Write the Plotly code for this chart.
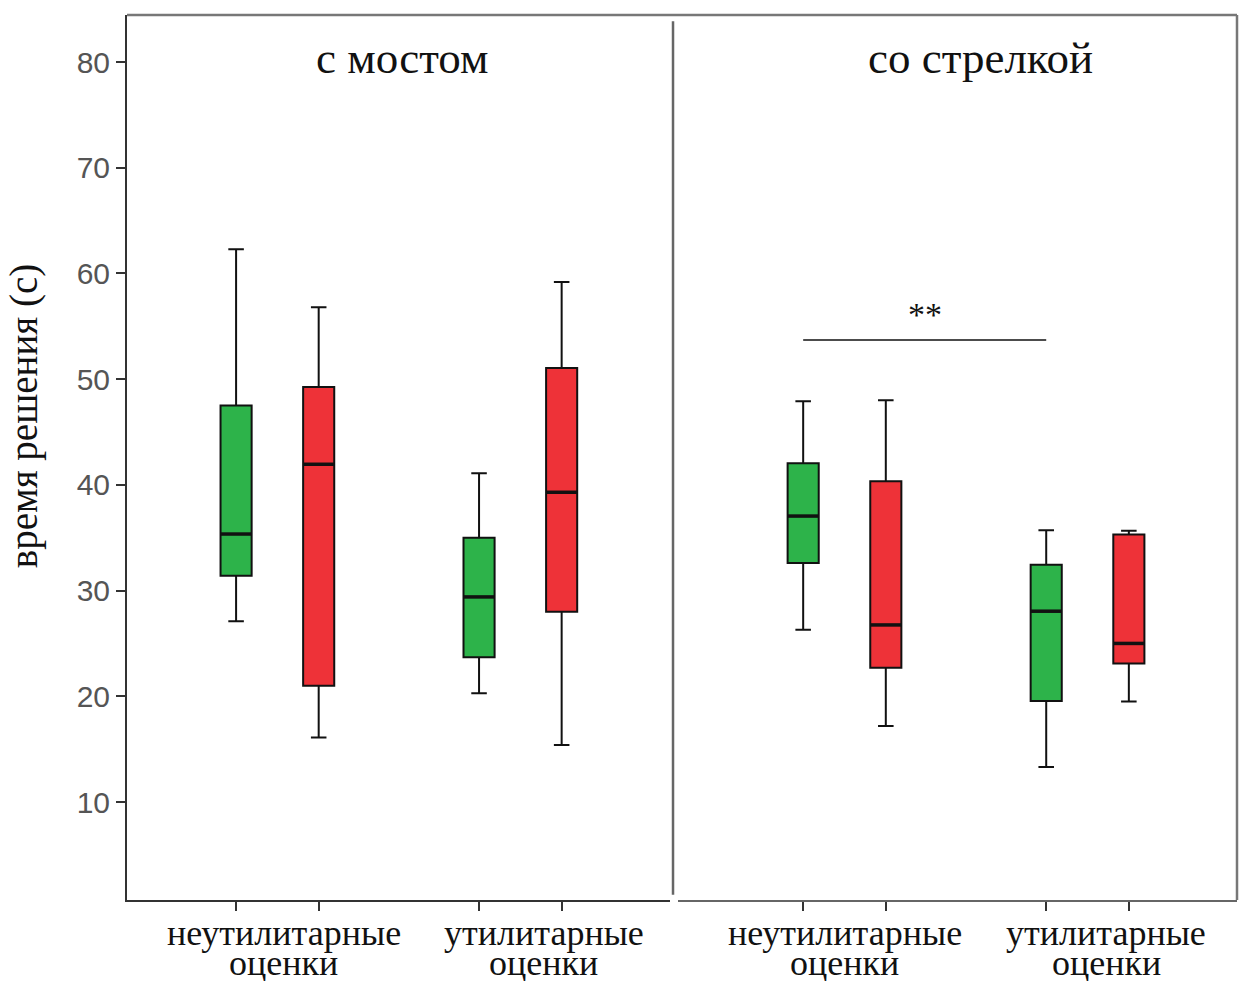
import plotly.graph_objects as go

# ---- data ----
panels = ["с мостом", "со стрелкой"]
groups = [["неутилитарные", "оценки"], ["утилитарные", "оценки"]]
y_ticks = [10, 20, 30, 40, 50, 60, 70, 80]

# green series (per panel, per group)
green_lower = [[27.1, 20.3], [26.3, 13.3]]
green_q1 = [[31.4, 23.7], [32.6, 19.55]]
green_med = [[35.35, 29.4], [37.05, 28.05]]
green_q3 = [[47.5, 35.0], [42.05, 32.45]]
green_upper = [[62.3, 41.1], [47.9, 35.7]]

# red series
red_lower = [[16.1, 15.4], [17.2, 19.5]]
red_q1 = [[21.0, 28.0], [22.7, 23.1]]
red_med = [[41.95, 39.3], [26.75, 25.0]]
red_q3 = [[49.25, 51.05], [40.35, 35.3]]
red_upper = [[56.8, 59.2], [48.0, 35.65]]

sig_level = 53.7
sig_text = "**"

# ---- style ----
GREEN = "#2db34a"
RED = "#ee3238"
SERIF = "Liberation Serif"
SANS = "Liberation Sans"
offset = 0.17
bw = 0.128
group_pos = [1, 2]
label_shift = [[0.027, 0.097], [0.002, 0.078]]

fig = go.Figure()
xaxes = ["x", "x2"]

series = [
    (GREEN, green_lower, green_q1, green_med, green_q3, green_upper, -offset),
    (RED, red_lower, red_q1, red_med, red_q3, red_upper, offset),
]

for p in range(2):
    xa = xaxes[p]
    for color, lo, q1, med, q3, up, off in series:
        xs = [g + off for g in group_pos]
        fig.add_trace(go.Box(
            x=xs, q1=q1[p], median=med[p], q3=q3[p],
            lowerfence=lo[p], upperfence=up[p],
            width=bw, whiskerwidth=0.5,
            fillcolor=color, line=dict(color="#111111", width=2),
            boxpoints=False, showlegend=False, hoverinfo="skip",
            xaxis=xa, yaxis="y",
        ))
        # thick median lines
        mx, my = [], []
        for x, m in zip(xs, med[p]):
            mx += [x - bw / 2, x + bw / 2, None]
            my += [m, m, None]
        fig.add_trace(go.Scatter(
            x=mx, y=my, mode="lines", line=dict(color="#111111", width=3.5),
            showlegend=False, hoverinfo="skip", xaxis=xa, yaxis="y",
        ))

# significance bar (right panel, between green boxes)
fig.add_trace(go.Scatter(
    x=[group_pos[0] - offset, group_pos[1] - offset], y=[sig_level, sig_level],
    mode="lines", line=dict(color="#111111", width=1.5),
    showlegend=False, hoverinfo="skip", xaxis="x2", yaxis="y",
))

annotations = []
annotations.append(dict(
    x=(group_pos[0] - offset + group_pos[1] - offset) / 2, y=sig_level + 2.4,
    xref="x2", yref="y", text=sig_text, showarrow=False, yanchor="middle",
    font=dict(family=SERIF, size=34, color="#111111"),
))

title_x = [1.516, 1.56]
for p, xa in enumerate(xaxes):
    annotations.append(dict(
        x=title_x[p], y=80.4, xref=xa, yref="y", text=panels[p],
        showarrow=False, font=dict(family=SERIF, size=45, color="#111111"),
        yanchor="middle",
    ))
    for gi, (g, lines) in enumerate(zip(group_pos, groups)):
        for k, line in enumerate(lines):
            annotations.append(dict(
                x=g + label_shift[p][gi], y=-0.037 - 0.034 * k, xref=xa,
                yref="paper", text=line, showarrow=False, yanchor="middle",
                font=dict(family=SERIF, size=36, color="#111111"),
            ))

annotations.append(dict(
    x=-0.0925, y=0.547, xref="paper", yref="paper", text="время решения (с)",
    textangle=-90, showarrow=False, xanchor="center",
    font=dict(family=SERIF, size=39, color="#111111"),
))

tick_positions = sorted([g - offset for g in group_pos] + [g + offset for g in group_pos])

common_x = dict(
    showgrid=False, zeroline=False, showline=True, linewidth=2,
    ticks="outside", ticklen=9, tickwidth=2, tickcolor="#333333",
    tickvals=tick_positions, showticklabels=False, fixedrange=True,
)

fig.update_layout(
    width=1239, height=981,
    margin=dict(l=127, r=2, t=15, b=81),
    paper_bgcolor="white", plot_bgcolor="white",
    xaxis=dict(domain=[0, 0.4892], range=[0.381, 2.616], linecolor="#333333",
               anchor="y", **common_x),
    xaxis2=dict(domain=[0.4964, 1], range=[0.315, 2.615], linecolor="#666666",
                anchor="y", **common_x),
    yaxis=dict(
        range=[0.73, 84.45], tickvals=y_ticks, showgrid=False, zeroline=False,
        showline=True, linecolor="#333333", linewidth=2,
        ticks="outside", ticklen=9, tickwidth=2, tickcolor="#333333",
        tickfont=dict(family=SANS, size=30, color="#555555"),
    ),
    annotations=annotations,
    shapes=[
        dict(type="line", xref="paper", yref="paper", x0=0, x1=1, y0=1, y1=1,
             line=dict(color="#777777", width=2.5)),
        dict(type="line", xref="paper", yref="paper", x0=1, x1=1, y0=0, y1=1,
             line=dict(color="#777777", width=2.5)),
        dict(type="line", xref="paper", yref="paper", x0=0.4919, x1=0.4919,
             y0=0.006, y1=0.993, line=dict(color="#666666", width=2.5)),
    ],
)

fig.write_html(
    "out.html",
    config={"displayModeBar": False},
    post_script="document.body.style.margin='0';document.body.style.overflow='hidden';",
)
